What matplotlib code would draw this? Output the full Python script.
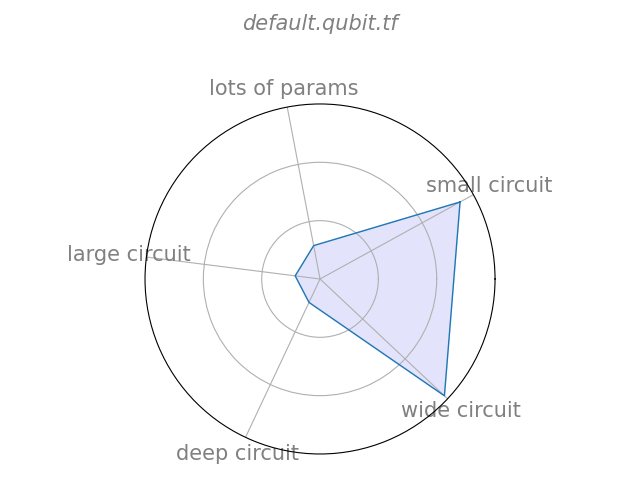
import numpy as np
import matplotlib
matplotlib.use('Agg')
import matplotlib.pyplot as plt

# Categories and values (relative scale, 0..1)
categories = ['small circuit', 'lots of params', 'large circuit', 'deep circuit', 'wide circuit']
values = [0.913, 0.194, 0.143, 0.148, 0.975]
title = 'default.qubit.tf'

n = len(categories)
angles = np.linspace(0, 2 * np.pi, n, endpoint=False) + np.deg2rad(28.8)
angles_closed = np.concatenate([angles, angles[:1]])
values_closed = values + values[:1]

fig = plt.figure(figsize=(6.4, 4.8), dpi=100)
ax = fig.add_axes([0.2266, 0.0542, 0.5469, 0.7292], projection='polar')

ax.plot(angles_closed, values_closed, color='tab:blue', linewidth=1)
ax.fill(angles_closed, values_closed, color='#e3e3fc')

ax.set_ylim(0, 1)
ax.set_yticks([1 / 3, 2 / 3])
ax.set_yticklabels([])
ax.set_xticks(angles)
ax.set_xticklabels(categories, color='gray', fontsize=15)
ax.tick_params(axis='x', pad=2.5)
ax.grid(True, color='#b0b0b0', linewidth=0.8)

fig.text(0.5, 1 - 24 / 480, title, ha='center', va='center',
         fontsize=15, style='italic', color='gray')

fig.savefig('out.png', dpi=100)
